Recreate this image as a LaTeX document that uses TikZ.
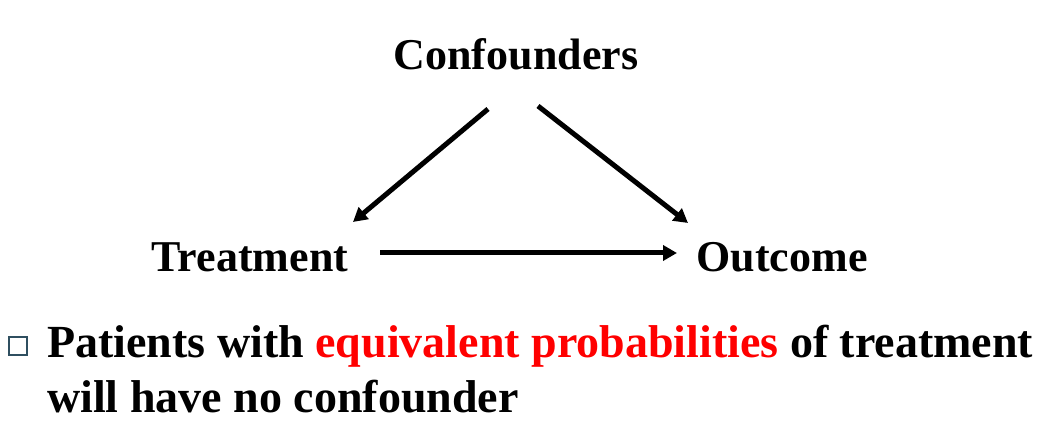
\documentclass[tikz,border=0pt]{standalone}
\usepackage{fontspec}
\setmainfont{Liberation Serif}
\usetikzlibrary{arrows.meta}
\definecolor{bulletc}{HTML}{2F4F60}
\tikzset{
  lbl/.style={font=\fontsize{44}{46}\selectfont\bfseries, inner sep=0pt, anchor=base},
  conn/.style={line width=5pt, -{Triangle[length=14pt,width=15pt]}},
  body/.style={font=\fontsize{46}{54}\selectfont\bfseries, inner sep=0pt, anchor=base west, align=left},
}
\begin{document}
\begin{tikzpicture}[x=1pt,y=-1pt]
\useasboundingbox (0,0) rectangle (1046,443);
\node[lbl] (conf) at (516,70) {Confounders};
\node[lbl] (treat) at (250,272) {Treatment};
\node[lbl] (out) at (782,272) {Outcome};
\coordinate (c1) at (488,109);
\coordinate (t1) at (353,222);
\coordinate (c2) at (538,106);
\coordinate (o1) at (688,223);
\coordinate (t2) at (380,253);
\coordinate (o2) at (677,253);
\draw[conn] (c1) -- (t1);
\draw[conn] (c2) -- (o1);
\draw[conn] (t2) -- (o2);
\node[draw=bulletc, line width=1.6pt, minimum size=18pt, inner sep=0pt] (bul) at (18,346) {};
\node[body] (line1) at (47,357) {Patients with \textcolor{red}{equivalent probabilities} of treatment};
\node[body] (line2) at (47,412) {will have no confounder};
\end{tikzpicture}
\end{document}
